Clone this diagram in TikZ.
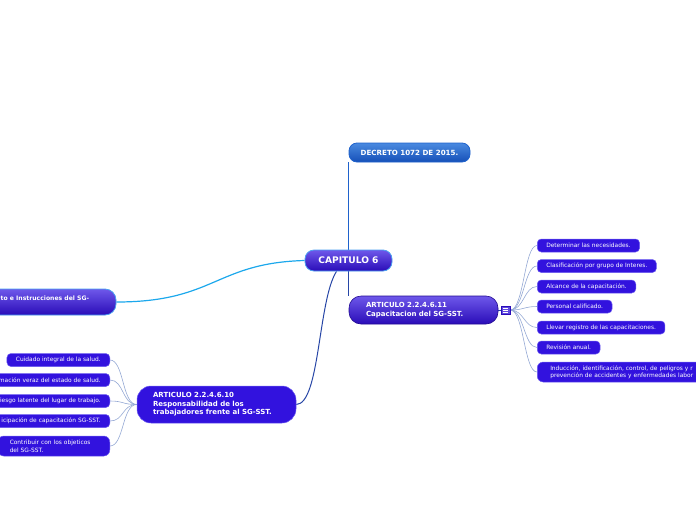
\documentclass[tikz,border=0pt]{standalone}
\usepackage{fontspec}
\setmainfont{DejaVu Sans}
\pgfdeclarelayer{bg}
\pgfsetlayers{bg,main}
\definecolor{cDecTop}{HTML}{4A8AE0}
\definecolor{cDecBot}{HTML}{1650B8}
\definecolor{cDecLine}{HTML}{1F62CC}
\definecolor{cPurTop}{HTML}{6E58EA}
\definecolor{cPurBot}{HTML}{2A0CB8}
\definecolor{cChild}{HTML}{3212DE}
\definecolor{cChildLine}{HTML}{6C5CF0}
\definecolor{cCyan}{HTML}{1CA8EC}
\definecolor{cDark}{HTML}{2746A6}
\definecolor{cThin}{HTML}{94A8D4}
\definecolor{cBorder}{HTML}{4AA0F0}
\tikzset{
  x=1pt, y=-1pt,
  txt/.style={text=white, inner sep=0pt},
  decbox/.style={rectangle, rounded corners=8pt, top color=cDecTop, bottom color=cDecBot,
    draw=cDecLine, line width=0.8pt, text=white, font=\bfseries\fontsize{7.1}{8}\selectfont,
    minimum width=121pt, minimum height=19pt, inner sep=0pt},
  rootbox/.style={rectangle, rounded corners=9pt, top color=cPurTop, bottom color=cPurBot,
    draw=cBorder, line width=0.8pt, text=white, font=\bfseries\fontsize{9.1}{10}\selectfont,
    minimum width=87pt, minimum height=21pt, inner sep=0pt},
  artbox/.style={rectangle, rounded corners=12pt, top color=cPurTop, bottom color=cPurBot,
    draw=cPurBot!80!black, line width=0.6pt, text=white, font=\bfseries\fontsize{7}{8.5}\selectfont,
    align=left, inner ysep=0pt},
  flatbox/.style={rectangle, rounded corners=14pt, fill=cChild,
    draw=cChildLine, line width=0.5pt, text=white, font=\bfseries\fontsize{7}{8.5}\selectfont,
    align=left, inner ysep=0pt},
  leftbox/.style={rectangle, rounded corners=11pt, top color=cPurTop, bottom color=cPurBot,
    draw=cBorder, line width=0.8pt, minimum height=26pt, minimum width=190pt, inner sep=0pt},
  child/.style={rectangle, rounded corners=4pt, fill=cChild, draw=cChildLine, line width=0.5pt,
    text=white, font=\fontsize{5.9}{8}\selectfont, minimum height=13pt, inner xsep=9pt, inner ysep=0pt},
  thinline/.style={draw=cThin, line width=0.6pt},
}
\begin{document}
\begin{tikzpicture}
\useasboundingbox (0,0) rectangle (696,520);
\clip (0,0) rectangle (696,520);

% main nodes
\node[decbox] (DEC) at (409.5,152.5) {DECRETO 1072 DE 2015.};
\node[rootbox] (CAP) at (348.5,260.5) {CAPITULO 6};
\node[leftbox] (L) at (21,302) {};
\node[txt, anchor=west, font=\bfseries\fontsize{6.1}{8}\selectfont] (Ltext) at (0.5,298.5) {to e Instrucciones del SG-};
\node[artbox, text width=115pt, inner xsep=17pt, minimum height=28pt] (A11) at (423.5,310)
  {ARTICULO 2.2.4.6.11\\Capacitacion del SG-SST.};
\node[rectangle, fill=cPurTop!80!cPurBot, draw=cPurBot, line width=0.5pt,
  minimum width=9pt, minimum height=8pt, inner sep=0pt] (ICON) at (505.5,310) {};
\draw[white, line width=0.5pt] (503,308) -- (508,308) (503,310) -- (508,310) (503,312) -- (508,312);
\node[flatbox, text width=127pt, inner xsep=16pt, minimum height=37pt] (A10) at (216.5,404.5)
  {ARTICULO 2.2.4.6.10\\Responsabilidad de los\\trabajadores frente al SG-SST.};

% right children
\node[child, anchor=west] (R1) at (537,245.5) {Determinar las necesidades.};
\node[child, anchor=west] (R2) at (537,266) {Clasificación por grupo de Interes.};
\node[child, anchor=west] (R3) at (537,286.5) {Alcance de la capacitación.};
\node[child, anchor=west] (R4) at (537,306.5) {Personal calificado.};
\node[child, anchor=west] (R5) at (537,327.5) {Llevar registro de las capacitaciones.};
\node[child, anchor=west] (R6) at (537,347.5) {Revisión anual.};
\node[child, anchor=west, rounded corners=6pt, minimum height=20pt, inner xsep=13pt,
  text width=190pt, align=left, font=\fontsize{5.9}{7.5}\selectfont] (R7) at (537,372)
  {Inducción, identificación, control, de peligros y r\\prevención de accidentes y enfermedades labor};

% left children
\node[child, anchor=east] (K1) at (110,360) {Cuidado integral de la salud.};
\node[child, anchor=east, text width=125pt, align=right] (K2) at (110,380) {mación veraz del estado de salud.};
\node[child, anchor=east, text width=125pt, align=right] (K3) at (110,401) {iesgo latente del lugar de trabajo.};
\node[child, anchor=east, text width=125pt, align=right] (K4) at (110,421) {icipación de capacitación SG-SST.};
\node[child, anchor=east, rounded corners=6pt, minimum height=20pt, inner xsep=12pt,
  text width=88pt, align=left, font=\fontsize{5.9}{8}\selectfont] (K5) at (110,446)
  {Contribuir con los objeticos\\del SG-SST.};

\begin{pgfonlayer}{bg}
  % main connectors
  \draw[cDecLine, line width=1.2pt] (CAP.north -| DEC.west) -- (DEC.south west);
  \draw[cDark, line width=1.2pt] (CAP.south -| A11.west) -- (A11.north west);
  \draw[cCyan, line width=1.2pt] (L.east) .. controls (215,302) and (215,263) .. (CAP.west);
  \draw[cDark, line width=1pt] (A10.east) .. controls (320,404) and (318,300) .. ([xshift=-12pt]CAP.south);
  \draw[cDark, line width=1pt] (A11.east) -- (ICON.west);
  % right child connectors
  \foreach \n/\yy in {R1/245.5,R2/266,R3/286.5,R4/306.5,R5/327.5,R6/347.5,R7/372}
    \draw[thinline] (ICON.east) .. controls (524,310) and (524,\yy) .. (\n.west);
  % left child connectors
  \foreach \n/\yy in {K1/360,K2/380,K3/401,K4/421,K5/446}
    \draw[thinline] (A10.west) .. controls (122,404.5) and (124,\yy) .. (\n.east);
\end{pgfonlayer}
\end{tikzpicture}
\end{document}
